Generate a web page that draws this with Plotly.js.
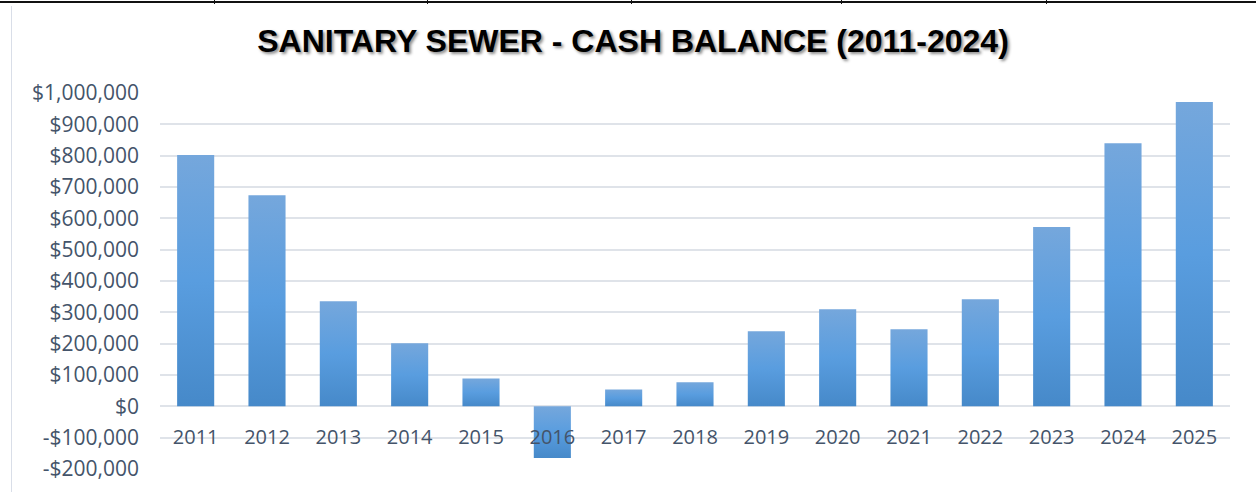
<!DOCTYPE html>
<html>
<head>
<meta charset="utf-8">
<script src="https://cdn.plot.ly/plotly-3.0.1.min.js"></script>
<style>
  html, body { margin: 0; padding: 0; background: #fff; }
  #wrap { position: relative; width: 1256px; height: 492px; overflow: hidden; }
  #chart { position: absolute; left: 0; top: 0; width: 1256px; height: 492px; }
  .deco { position: absolute; pointer-events: none; }
</style>
</head>
<body>
<div id="wrap">
  <div id="chart"></div>
  <div class="deco" style="left:0;top:1px;width:1256px;height:2px;background:#111;"></div>
  <div class="deco" style="left:214px;top:0;width:1px;height:4px;background:#111;"></div>
  <div class="deco" style="left:427px;top:0;width:1px;height:4px;background:#111;"></div>
  <div class="deco" style="left:631px;top:0;width:1px;height:4px;background:#111;"></div>
  <div class="deco" style="left:841px;top:0;width:1px;height:4px;background:#111;"></div>
  <div class="deco" style="left:1046px;top:0;width:1px;height:4px;background:#111;"></div>
  <div class="deco" style="left:11px;top:6px;width:1px;height:486px;background:#d9dee8;"></div>
</div>
<script>
const years = ['2011','2012','2013','2014','2015','2016','2017','2018','2019','2020','2021','2022','2023','2024','2025'];
const cashBalance = [802000, 674000, 335000, 201000, 89000, -165000, 54000, 77000, 240000, 310000, 246000, 342000, 572000, 840000, 971000];
const yTickValues = [-200000, -100000, 0, 100000, 200000, 300000, 400000, 500000, 600000, 700000, 800000, 900000, 1000000];
const chartTitle = 'SANITARY SEWER - CASH BALANCE (2011-2024)';

function money(v) {
  const s = '$' + Math.abs(v).toLocaleString('en-US');
  return v < 0 ? '-' + s : s;
}

const textColor = '#44546a';

const trace = {
  type: 'bar',
  x: years,
  y: cashBalance,
  width: 0.52,
  marker: { color: '#5b9bd9', line: { width: 0 } },
  hoverinfo: 'x+y'
};

const layout = {
  width: 1256,
  height: 492,
  margin: { l: 160, r: 26, t: 93, b: 23 },
  paper_bgcolor: 'rgba(0,0,0,0)',
  plot_bgcolor: 'rgba(0,0,0,0)',
  showlegend: false,
  title: {
    text: chartTitle,
    font: { family: 'Liberation Sans, Arial, sans-serif', size: 32, color: '#000', weight: 700, shadow: '2px 2px 3px rgba(0,0,0,0.45)' },
    x: 0.504, xref: 'container', xanchor: 'center',
    y: 1 - 41 / 492, yref: 'container', yanchor: 'middle'
  },
  xaxis: {
    type: 'category',
    anchor: 'free',
    position: 200000 / 1200000,
    showline: false,
    showgrid: false,
    zeroline: false,
    ticks: '',
    ticklabelstandoff: 17,
    tickfont: { family: 'Open Sans, sans-serif', size: 20, color: textColor }
  },
  yaxis: {
    range: [-200000, 1000000],
    tickmode: 'array',
    tickvals: yTickValues,
    ticktext: yTickValues.map(money),
    showgrid: true,
    gridcolor: '#dfe3e9',
    gridwidth: 2,
    zeroline: false,
    showline: false,
    ticks: '',
    ticklabelstandoff: 20,
    tickfont: { family: 'Open Sans, sans-serif', size: 21, color: textColor }
  }
};

Plotly.newPlot('chart', [trace], layout, { displayModeBar: false, staticPlot: true }).then(function (gd) {
  const svg = gd.querySelector('svg.main-svg');
  const ns = 'http://www.w3.org/2000/svg';
  let defs = svg.querySelector('defs');
  if (!defs) { defs = document.createElementNS(ns, 'defs'); svg.insertBefore(defs, svg.firstChild); }
  const grad = document.createElementNS(ns, 'linearGradient');
  grad.setAttribute('id', 'barGrad');
  grad.setAttribute('x1', '0'); grad.setAttribute('y1', '0');
  grad.setAttribute('x2', '0'); grad.setAttribute('y2', '1');
  [['0', '#75a7dc'], ['0.5', '#599ddf'], ['1', '#4689c9']].forEach(function (s) {
    const st = document.createElementNS(ns, 'stop');
    st.setAttribute('offset', s[0]);
    st.setAttribute('stop-color', s[1]);
    grad.appendChild(st);
  });
  defs.appendChild(grad);
  gd.querySelectorAll('.barlayer .point path').forEach(function (p) {
    p.style.fill = 'url(#barGrad)';
  });
});
</script>
</body>
</html>
